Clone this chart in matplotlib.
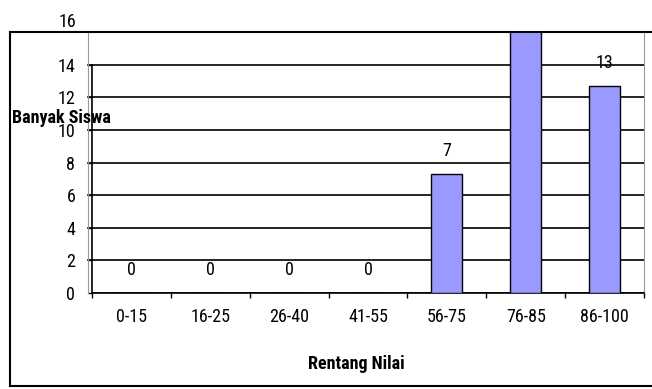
import matplotlib
matplotlib.use('Agg')
import matplotlib.pyplot as plt
from matplotlib.lines import Line2D

plt.rcParams['font.family'] = ['Liberation Sans Narrow', 'Roboto Condensed', 'Archivo Narrow', 'Liberation Sans', 'DejaVu Sans']

categories = ['0-15', '16-25', '26-40', '41-55', '56-75', '76-85', '86-100']
bar_heights = [0, 0, 0, 0, 7.3, 16.5, 12.7]   # as drawn in the picture
value_labels = ['0', '0', '0', '0', '7', '', '13']
y_ticks = [0, 2, 4, 6, 8, 10, 12, 14]

W, H = 652, 389
fs = 13
fig = plt.figure(figsize=(W / 100, H / 100), dpi=100)
ax = fig.add_axes([92 / W, (H - 293) / H, (644 - 92) / W, (293 - 32) / H])

x = list(range(len(categories)))
ax.bar(x, bar_heights, width=0.39, color='#9999ff', edgecolor='black', linewidth=1.0, zorder=3)
for xi, h, lab in zip(x, bar_heights, value_labels):
    if lab:
        ax.annotate(lab, (xi, h), xytext=(0, 10), textcoords='offset points',
                    ha='center', va='bottom', fontsize=fs)

ax.set_xlim(-0.5, len(categories) - 0.5)
ax.set_ylim(0, 16)
ax.set_yticks(y_ticks)
ax.set_yticklabels([str(v) for v in y_ticks], fontsize=fs)
ax.tick_params(axis='y', direction='out', length=3, width=1, pad=9)
ax.yaxis.grid(True, color='black', linewidth=1.2, zorder=1)
ax.set_axisbelow(True)

ax.set_xticks(x)
ax.set_xticklabels(categories, fontsize=fs)
ax.set_xticks([i - 0.5 for i in range(len(categories) + 1)], minor=True)
ax.tick_params(axis='x', which='major', length=0, pad=11)
ax.tick_params(axis='x', which='minor', direction='out', length=3.5, width=1)

for v in y_ticks[1:]:
    ax.plot([-0.55, -0.5], [v, v], color='black', lw=1.2, clip_on=False)

ax.spines['left'].set_bounds(0, 14)
ax.spines['left'].set_linewidth(1.2)
ax.spines['bottom'].set_linewidth(1.2)
ax.spines['top'].set_visible(False)
ax.spines['right'].set_color('#999999')
ax.spines['right'].set_linewidth(0.8)

# "16" sits above the frame
fig.text(76 / W, (H - 22) / H, '16', ha='right', va='center', fontsize=fs)

# thin gray plot-area border on the left
fig.add_artist(Line2D([88 / W, 88 / W], [(H - 32) / H, (H - 293) / H], color='#999999', lw=0.8))

# outer chart frame
fig.add_artist(Line2D([10 / W, 1.0], [(H - 32) / H, (H - 32) / H], color='black', lw=1.5))
fig.add_artist(Line2D([10 / W, 10 / W], [(H - 32) / H, (H - 386) / H], color='black', lw=1.5))
fig.add_artist(Line2D([10 / W, 1.0], [(H - 386) / H, (H - 386) / H], color='black', lw=1.5))

fig.text(12 / W, (H - 118) / H, 'Banyak Siswa', ha='left', va='center', fontsize=fs, fontweight='bold')
fig.text(356 / W, (H - 364) / H, 'Rentang Nilai', ha='center', va='center', fontsize=fs, fontweight='bold')

fig.savefig('out.png', dpi=100)
